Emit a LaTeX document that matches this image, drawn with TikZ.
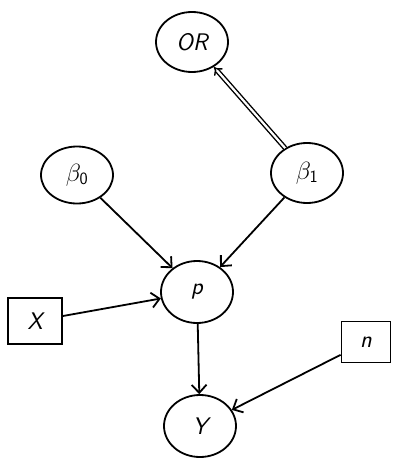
\documentclass[tikz,border=0pt]{standalone}
\usetikzlibrary{arrows.meta,shapes.geometric}
\begin{document}
\begin{tikzpicture}[x=1pt,y=-1pt,
  every node/.style={font=\fontsize{24}{28}\selectfont\sffamily\itshape, line width=1.8pt, draw, inner sep=0pt},
  var/.style={ellipse, minimum width=72pt, minimum height=60pt},
  obs/.style={rectangle},
  link/.style={line width=1.8pt, -{Straight Barb[length=8pt,width=15pt,line width=1.8pt]}},
  dlink/.style={double, double distance=2.2pt, line width=1.4pt, -{Implies[length=6pt]}}]
\useasboundingbox (0,0) rectangle (408,460);
\node[var] (OR) at (192,42) {OR};
\node[var] (b1) at (307,173) {$\beta_{\mathsf{1}}$};
\node[var, minimum height=57pt] (b0) at (77,175) {$\beta_{\mathsf{0}}$};
\node[var, minimum height=62pt] (p) at (197,292) {p};
\node[obs, minimum width=54pt, minimum height=46pt] (X) at (35,321) {X};
\node[var, minimum height=62pt] (Y) at (200,426) {Y};
\node[obs, minimum width=49pt, minimum height=41pt] (n) at (366,342) {n};
\draw[dlink] (b1) -- (OR);
\draw[link] (b0) -- (p);
\draw[link] (b1) -- (p);
\draw[link] (X) -- (p);
\draw[link] (p) -- (Y);
\draw[link] (n) -- (Y);
\end{tikzpicture}
\end{document}
